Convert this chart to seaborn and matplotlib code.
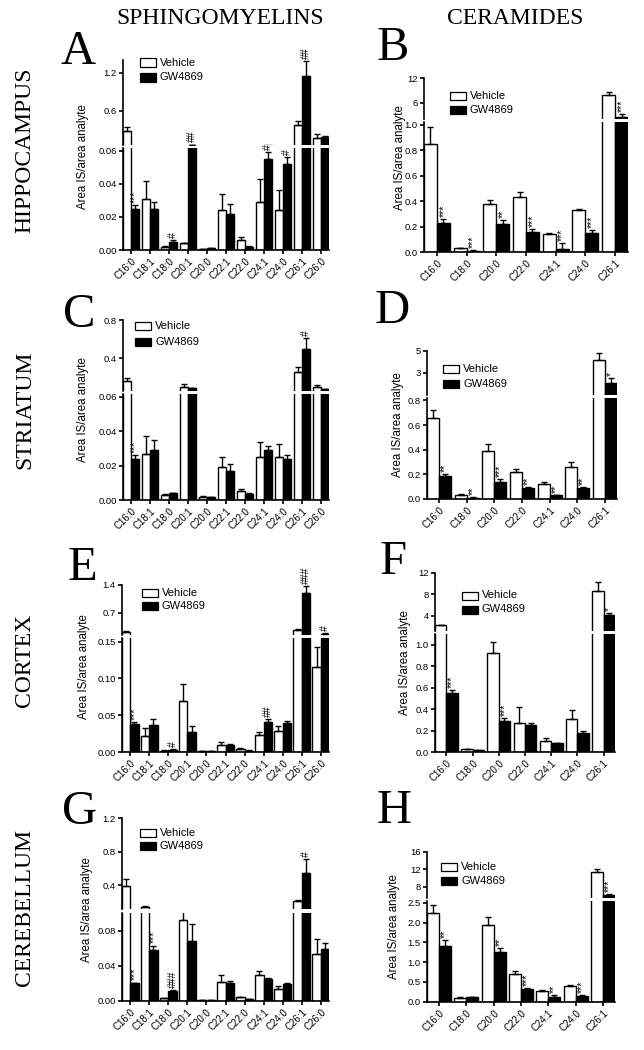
import matplotlib
matplotlib.use('Agg')
import matplotlib.pyplot as plt
from matplotlib.patches import Rectangle
from matplotlib.ticker import FixedLocator, FixedFormatter
import numpy as np
import pandas as pd
import seaborn as sns

sns.set_style('ticks', {'axes.edgecolor': 'black', 'text.color': 'black',
                        'xtick.color': 'black', 'ytick.color': 'black',
                        'axes.labelcolor': 'black'})
plt.rcParams['font.family'] = ['Liberation Sans', 'DejaVu Sans']

# ---- data ----
cats_sm = ['C16:0', 'C18:1', 'C18:0', 'C20:1', 'C20:0', 'C22:1', 'C22:0', 'C24:1', 'C24:0', 'C26:1', 'C26:0']
cats_cer = ['C16:0', 'C18:0', 'C20:0', 'C22:0', 'C24:1', 'C24:0', 'C26:1']
groups = ['Vehicle', 'GW4869']

# A hippocampus sphingomyelins
A_veh = [0.28, 0.031, 0.002, 0.004, 0.0005, 0.024, 0.006, 0.029, 0.024, 0.375, 0.17]
A_veh_err = [0.07, 0.011, 0.0005, 0.0005, 0.0002, 0.01, 0.002, 0.014, 0.012, 0.07, 0.06]
A_gw = [0.025, 0.025, 0.005, 0.065, 0.001, 0.022, 0.002, 0.055, 0.052, 1.15, 0.19]
A_gw_err = [0.002, 0.004, 0.0008, 0.002, 0.0002, 0.006, 0.0005, 0.004, 0.004, 0.24, 0.01]
A_sig = ['***', '', '#', '##', '', '', '', '#', '#', '##', '']

# B hippocampus ceramides
B_veh = [0.85, 0.03, 0.38, 0.43, 0.14, 0.33, 7.9]
B_veh_err = [0.13, 0.003, 0.03, 0.04, 0.01, 0.01, 0.8]
B_gw = [0.23, 0.01, 0.22, 0.16, 0.02, 0.15, 2.6]
B_gw_err = [0.03, 0.003, 0.03, 0.02, 0.05, 0.02, 0.6]
B_sig = ['***', '***', '**', '***', '***', '***', '***']

# C striatum sphingomyelins
C_veh = [0.16, 0.027, 0.003, 0.105, 0.002, 0.019, 0.005, 0.025, 0.025, 0.26, 0.105]
C_veh_err = [0.04, 0.01, 0.0005, 0.03, 0.0005, 0.006, 0.0015, 0.009, 0.0075, 0.05, 0.015]
C_gw = [0.024, 0.029, 0.004, 0.09, 0.0015, 0.017, 0.0035, 0.029, 0.024, 0.5, 0.08]
C_gw_err = [0.002, 0.006, 0.0003, 0.005, 0.0002, 0.004, 0.0005, 0.0025, 0.002, 0.11, 0.004]
C_sig = ['***', '', '', '', '', '', '', '', '', '#', '']

# D striatum ceramides
D_veh = [0.66, 0.035, 0.39, 0.22, 0.12, 0.26, 4.2]
D_veh_err = [0.06, 0.005, 0.06, 0.02, 0.02, 0.04, 0.6]
D_gw = [0.19, 0.01, 0.14, 0.09, 0.03, 0.09, 2.1]
D_gw_err = [0.01, 0.003, 0.02, 0.01, 0.005, 0.01, 0.45]
D_sig = ['**', '**', '***', '**', '**', '**', '*']

# E cortex sphingomyelins
E_veh = [0.23, 0.022, 0.002, 0.069, 0.001, 0.010, 0.004, 0.023, 0.029, 0.275, 0.116]
E_veh_err = [0.02, 0.01, 0.0005, 0.023, 0.0003, 0.003, 0.001, 0.004, 0.007, 0.02, 0.027]
E_gw = [0.038, 0.037, 0.003, 0.027, 0.001, 0.010, 0.002, 0.041, 0.040, 1.2, 0.18]
E_gw_err = [0.003, 0.008, 0.0005, 0.008, 0.0003, 0.001, 0.0005, 0.004, 0.002, 0.17, 0.02]
E_sig = ['***', '', '#', '', '', '', '', '##', '', '###', '#']

# F cortex ceramides
F_veh = [2.2, 0.025, 0.92, 0.27, 0.10, 0.31, 8.7]
F_veh_err = [0.1, 0.003, 0.11, 0.15, 0.03, 0.08, 1.6]
F_gw = [0.55, 0.02, 0.29, 0.25, 0.08, 0.18, 4.1]
F_gw_err = [0.03, 0.002, 0.03, 0.02, 0.005, 0.02, 0.4]
F_sig = ['***', '', '***', '', '', '', '*']

# G cerebellum sphingomyelins
G_veh = [0.39, 0.14, 0.003, 0.092, 0.001, 0.022, 0.004, 0.029, 0.014, 0.22, 0.053]
G_veh_err = [0.09, 0.01, 0.0005, 0.012, 0.0003, 0.008, 0.001, 0.005, 0.003, 0.01, 0.018]
G_gw = [0.02, 0.058, 0.011, 0.068, 0.001, 0.021, 0.002, 0.025, 0.019, 0.55, 0.059]
G_gw_err = [0.001, 0.005, 0.001, 0.02, 0.0003, 0.002, 0.0005, 0.001, 0.001, 0.16, 0.007]
G_sig = ['***', '***', '###', '', '', '', '', '', '', '#', '']

# H cerebellum ceramides
H_veh = [2.25, 0.1, 1.95, 0.7, 0.27, 0.4, 11.4]
H_veh_err = [0.2, 0.01, 0.2, 0.07, 0.02, 0.02, 0.7]
H_gw = [1.4, 0.12, 1.25, 0.32, 0.13, 0.15, 6.1]
H_gw_err = [0.15, 0.01, 0.12, 0.03, 0.03, 0.03, 0.3]
H_sig = ['**', '', '**', '***', '**', '***', '***']

# y tick values / labels (lower segment, upper segment)
A_lo_ticks, A_lo_lab = [0, 0.02, 0.04, 0.06], ['0.00', '0.02', '0.04', '0.06']
A_up_ticks, A_up_lab = [0.6, 1.2], ['0.6', '1.2']
B_lo_ticks, B_lo_lab = [0, 0.2, 0.4, 0.6, 0.8, 1.0], ['0.0', '0.2', '0.4', '0.6', '0.8', '1.0']
B_up_ticks, B_up_lab = [6, 12], ['6', '12']
C_lo_ticks, C_lo_lab = [0, 0.02, 0.04, 0.06], ['0.00', '0.02', '0.04', '0.06']
C_up_ticks, C_up_lab = [0.4, 0.8], ['0.4', '0.8']
D_lo_ticks, D_lo_lab = [0, 0.2, 0.4, 0.6, 0.8], ['0.0', '0.2', '0.4', '0.6', '0.8']
D_up_ticks, D_up_lab = [3, 5], ['3', '5']
E_lo_ticks, E_lo_lab = [0, 0.05, 0.10, 0.15], ['0.00', '0.05', '0.10', '0.15']
E_up_ticks, E_up_lab = [0.7, 1.4], ['0.7', '1.4']
F_lo_ticks, F_lo_lab = [0, 0.2, 0.4, 0.6, 0.8, 1.0], ['0.0', '0.2', '0.4', '0.6', '0.8', '1.0']
F_up_ticks, F_up_lab = [4, 8, 12], ['4', '8', '12']
G_lo_ticks, G_lo_lab = [0, 0.04, 0.08], ['0.00', '0.04', '0.08']
G_up_ticks, G_up_lab = [0.4, 0.8, 1.2], ['0.4', '0.8', '1.2']
H_lo_ticks, H_lo_lab = [0, 0.5, 1.0, 1.5, 2.0, 2.5], ['0.0', '0.5', '1.0', '1.5', '2.0', '2.5']
H_up_ticks, H_up_lab = [8, 12, 16], ['8', '12', '16']

col_titles = ['SPHINGOMYELINS', 'CERAMIDES']
row_titles = ['HIPPOCAMPUS', 'STRIATUM', 'CORTEX', 'CEREBELLUM']
ylab = 'Area IS/area analyte'

W, H = 644, 1050
fig = plt.figure(figsize=(6.44, 10.5), dpi=100)
SERIF = ['Liberation Serif', 'DejaVu Serif']
BW = 0.87
LW = 1.2


def fx(px):
    return px / W


def fy(py):
    return 1 - py / H


def make_ax(x0, x1, yb, yt):
    return fig.add_axes([fx(x0), fy(yb), (x1 - x0) / W, (yb - yt) / H])


def bars(ax, cats, veh, veh_err, gw, gw_err, lim, seg):
    n = len(cats)
    df = pd.DataFrame({'lipid': cats * 2, 'group': [groups[0]] * n + [groups[1]] * n,
                       'value': veh + gw})
    sns.barplot(data=df, x='lipid', y='value', hue='group', order=cats, hue_order=groups,
                palette={'Vehicle': 'white', 'GW4869': 'black'}, edgecolor='black',
                linewidth=1.0, width=BW, errorbar=None, legend=False, ax=ax)
    xv = [p.get_x() + p.get_width() / 2 for p in ax.containers[0]]
    xg = [p.get_x() + p.get_width() / 2 for p in ax.containers[1]]
    for xs, ys, es in [(xv, veh, veh_err), (xg, gw, gw_err)]:
        # only the error bars that fall inside this segment of the broken axis
        if seg == 'lo':
            keep = [i for i in range(n) if ys[i] < lim[1]]
        else:
            keep = [i for i in range(n) if ys[i] + es[i] > lim[0]]
        if keep:
            ax.errorbar([xs[i] for i in keep], [ys[i] for i in keep],
                        yerr=[np.zeros(len(keep)), [es[i] for i in keep]], fmt='none',
                        ecolor='black', elinewidth=1.0, capsize=2, capthick=1.0)
    ax.set_xlim(-0.5 + (1 - BW) / 2, n - 0.5 - (1 - BW) / 2)
    ax.set_xlabel('')
    ax.set_ylabel('')
    return xg


def panel(letter, lx, ly, x0, x1, lo, lo_lim, up, up_lim, lo_t, lo_l, up_t, up_l,
          cats, veh, veh_err, gw, gw_err, sig, leg, ylpos):
    ax_lo = make_ax(x0, x1, lo[0], lo[1])
    ax_up = make_ax(x0, x1, up[0], up[1])
    xg = bars(ax_lo, cats, veh, veh_err, gw, gw_err, lo_lim, 'lo')
    bars(ax_up, cats, veh, veh_err, gw, gw_err, up_lim, 'up')
    for ax in (ax_lo, ax_up):
        ax.spines['top'].set_visible(False)
        ax.spines['right'].set_visible(False)
        ax.spines['left'].set_linewidth(LW)
        ax.spines['bottom'].set_linewidth(LW)
        ax.tick_params(axis='y', length=3, width=LW, labelsize=6.8, pad=1.5)
        ax.set_facecolor('none')
    ax_lo.set_ylim(lo_lim)
    ax_lo.yaxis.set_major_locator(FixedLocator(lo_t))
    ax_lo.yaxis.set_major_formatter(FixedFormatter(lo_l))
    ax_lo.set_xticks(range(len(cats)))
    ax_lo.set_xticklabels(cats, rotation=45, ha='right', va='top', rotation_mode='anchor',
                          fontsize=7)
    ax_lo.tick_params(axis='x', length=3, width=LW, pad=1.5)
    ax_up.set_ylim(up_lim)
    ax_up.yaxis.set_major_locator(FixedLocator(up_t))
    ax_up.yaxis.set_major_formatter(FixedFormatter(up_l))
    ax_up.spines['bottom'].set_visible(False)
    ax_up.set_xticks([])
    # significance marks above the GW4869 bars
    for i, s in enumerate(sig):
        if not s:
            continue
        top = gw[i] + gw_err[i]
        ax = ax_lo if top < lo_lim[1] * 0.97 else ax_up
        ax.annotate(s, (xg[i], top), xytext=(0, 1.5), textcoords='offset points',
                    rotation=90, ha='center', va='bottom', fontsize=7.5,
                    annotation_clip=False)
    # legend drawn in figure pixels
    bx, c1, c2 = leg
    for cy, fc, lab in [(c1, 'white', groups[0]), (c2, 'black', groups[1])]:
        fig.add_artist(Rectangle((fx(bx), fy(cy + 4)), 16 / W, 8 / H, transform=fig.transFigure,
                                 facecolor=fc, edgecolor='black', linewidth=0.9))
        fig.text(fx(bx + 20), fy(cy), lab, fontsize=8, ha='left', va='center')
    fig.text(fx(lx), fy(ly), letter, fontsize=35, family=SERIF, ha='center', va='center')
    fig.text(fx(ylpos[0]), fy(ylpos[1]), ylab, fontsize=8.3, rotation=90,
             ha='center', va='center')


panel('A', 78, 52, 123, 329, (250, 147.5), (0, 0.062), (145, 60), (0.06, 1.4),
      A_lo_ticks, A_lo_lab, A_up_ticks, A_up_lab,
      cats_sm, A_veh, A_veh_err, A_gw, A_gw_err, A_sig, (140, 62.5, 77.5), (83, 157))
panel('B', 393, 48, 424, 628, (252, 122), (0, 1.02), (119, 78), (2, 12),
      B_lo_ticks, B_lo_lab, B_up_ticks, B_up_lab,
      cats_cer, B_veh, B_veh_err, B_gw, B_gw_err, B_sig, (450, 96, 110), (400, 158))
panel('C', 79, 315, 123, 329, (500, 394), (0, 0.0617), (391, 320), (0.06, 0.8),
      C_lo_ticks, C_lo_lab, C_up_ticks, C_up_lab,
      cats_sm, C_veh, C_veh_err, C_gw, C_gw_err, C_sig, (135, 326, 342), (83, 410))
panel('D', 392, 311, 427, 617, (499, 398), (0, 0.82), (395, 351), (1, 5),
      D_lo_ticks, D_lo_lab, D_up_ticks, D_up_lab,
      cats_cer, D_veh, D_veh_err, D_gw, D_gw_err, D_sig, (443, 369, 384), (398, 425))
panel('E', 82, 568, 122, 329, (752, 638), (0, 0.155), (635, 585), (0.15, 1.4),
      E_lo_ticks, E_lo_lab, E_up_ticks, E_up_lab,
      cats_sm, E_veh, E_veh_err, E_gw, E_gw_err, E_sig, (142, 592.5, 606), (84, 667))
panel('F', 393, 562, 435, 615, (752, 634), (0, 1.1), (631, 573), (1.15, 12),
      F_lo_ticks, F_lo_lab, F_up_ticks, F_up_lab,
      cats_cer, F_veh, F_veh_err, F_gw, F_gw_err, F_sig, (462, 595.5, 609.5), (405, 663))
panel('G', 80, 812, 122, 329, (1001, 913), (0, 0.1), (909, 818), (0.12, 1.2),
      G_lo_ticks, G_lo_lab, G_up_ticks, G_up_lab,
      cats_sm, G_veh, G_veh_err, G_gw, G_gw_err, G_sig, (140, 832.5, 846), (87, 910))
panel('H', 394, 811, 427, 615, (1001.7, 901), (0, 2.55), (898, 851.5), (5.5, 16),
      H_lo_ticks, H_lo_lab, H_up_ticks, H_up_lab,
      cats_cer, H_veh, H_veh_err, H_gw, H_gw_err, H_sig, (441, 866.5, 881), (394, 927))

# column and row headings
fig.text(fx(220), fy(18), col_titles[0], fontsize=17, family=SERIF, ha='center', va='center')
fig.text(fx(515), fy(18), col_titles[1], fontsize=17, family=SERIF, ha='center', va='center')
for name, cy in zip(row_titles, [150, 410, 660, 908]):
    fig.text(fx(25), fy(cy), name, fontsize=17, family=SERIF, rotation=90,
             ha='center', va='center')

fig.savefig('out.png', dpi=100)
